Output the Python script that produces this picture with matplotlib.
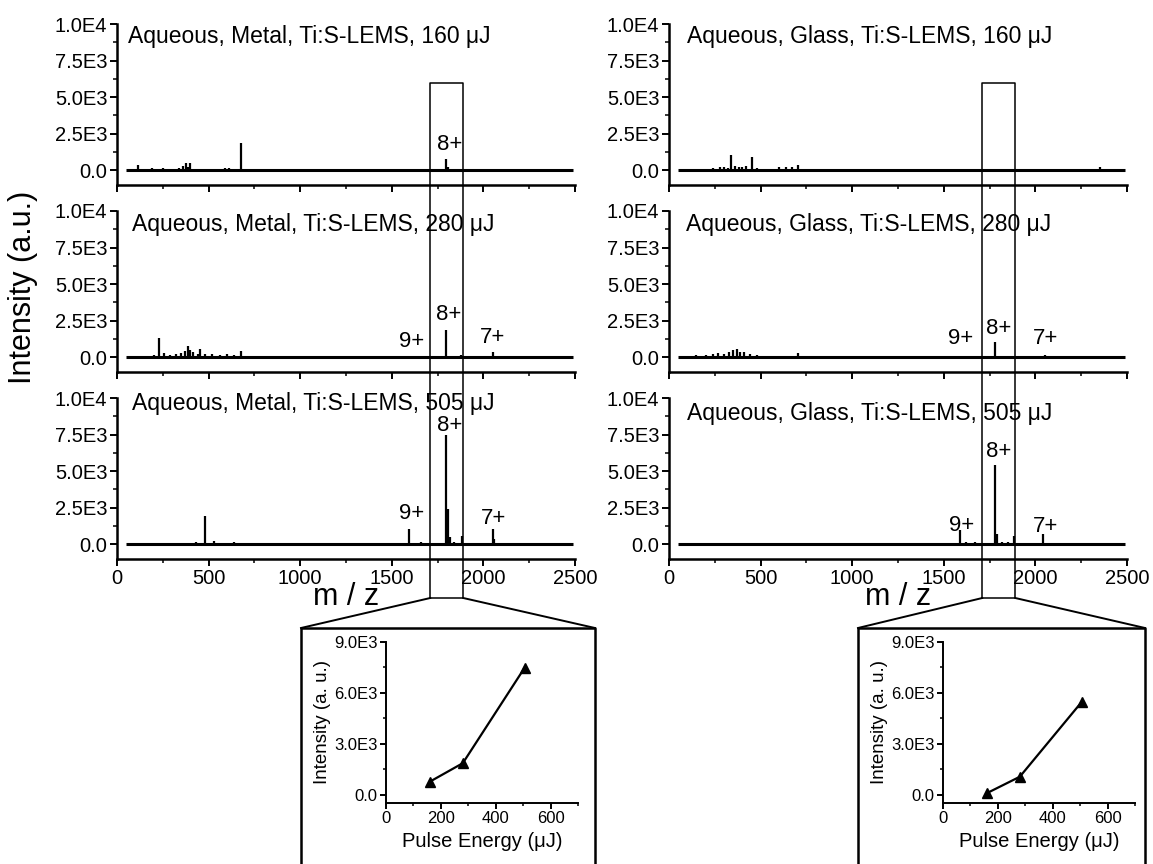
import matplotlib
matplotlib.use("Agg")
import matplotlib.pyplot as plt
from matplotlib.lines import Line2D
from matplotlib.ticker import MultipleLocator

plt.rcParams['font.family'] = ['Liberation Sans', 'DejaVu Sans']

# ---------------------------------------------------------------
# Pulse energies and 8+ charge-state intensities
# ---------------------------------------------------------------
energies = [160, 280, 505]
metal_8plus = [760, 1850, 7470]
glass_8plus = [80, 1050, 5450]

mz_span = [50, 2490]

# ---------------------------------------------------------------
# Stick spectra (m/z, intensity) - metal substrate
# ---------------------------------------------------------------
metal_160_mz = [115, 150, 190, 210, 230, 250, 300, 340, 360, 376, 390, 400,
                430, 470, 520, 560, 590, 610, 640, 678, 740, 900, 1000, 1100,
                1300, 1500, 1650, 1795, 1805, 1950, 2150, 2300, 2450]
metal_160_int = [340, 80, 150, 120, 100, 130, 80, 150, 300, 480, 250, 480,
                 120, 100, 90, 120, 150, 180, 100, 1860, 60, 60, 70, 50,
                 60, 60, 70, metal_8plus[0], 250, 50, 70, 40, 50]

metal_280_mz = [100, 150, 200, 229, 255, 290, 320, 350, 372, 387, 400, 415,
                440, 453, 480, 520, 560, 600, 640, 678, 750, 900, 1080, 1300,
                1480, 1590, 1700, 1795, 1880, 1960, 2053, 2200, 2400]
metal_280_int = [80, 120, 150, 1300, 300, 150, 200, 300, 450, 750, 500, 350,
                 250, 600, 200, 220, 180, 200, 150, 410, 80, 60, 90, 70,
                 60, 100, 60, metal_8plus[1], 150, 60, 350, 60, 70]

metal_505_mz = [120, 160, 200, 260, 330, 400, 430, 480, 530, 560, 640, 720,
                780, 850, 930, 1000, 1100, 1200, 1300, 1400, 1500, 1595, 1660,
                1700, 1795, 1808, 1815, 1840, 1883, 1950, 2053, 2060, 2120,
                2200, 2300, 2400]
metal_505_int = [60, 100, 80, 70, 80, 60, 150, 1960, 200, 90, 150, 70,
                 50, 60, 50, 50, 50, 60, 50, 60, 60, 1080, 150,
                 80, metal_8plus[2], 2400, 500, 150, 600, 80, 1080, 400, 60,
                 60, 50, 50]

# ---------------------------------------------------------------
# Stick spectra - glass substrate
# ---------------------------------------------------------------
glass_160_mz = [100, 150, 200, 240, 280, 300, 320, 338, 360, 380, 400, 420,
                452, 480, 520, 560, 600, 640, 670, 703, 800, 1000, 1200,
                1400, 1600, 1795, 1900, 2100, 2300, 2353, 2450]
glass_160_int = [50, 80, 100, 150, 200, 250, 150, 1030, 300, 200, 250, 300,
                 900, 150, 100, 120, 200, 250, 250, 400, 50, 40, 40,
                 40, 50, glass_8plus[0], 40, 40, 80, 200, 50]

glass_280_mz = [150, 200, 240, 270, 300, 330, 350, 370, 390, 410, 440, 480,
                540, 600, 660, 703, 800, 1000, 1200, 1400, 1590, 1680, 1780,
                1880, 2053, 2200, 2360, 2440]
glass_280_int = [150, 150, 200, 300, 250, 400, 500, 600, 400, 350, 200, 150,
                 100, 120, 100, 300, 60, 50, 50, 60, 100, 80, glass_8plus[1],
                 80, 150, 50, 100, 60]

glass_505_mz = [1450, 1480, 1520, 1560, 1590, 1620, 1650, 1670, 1780, 1790,
                1820, 1850, 1882, 2043, 2100]
glass_505_int = [100, 80, 60, 70, 950, 150, 120, 150, glass_8plus[2], 700,
                 150, 150, 540, 680, 50]

# ---------------------------------------------------------------
# Tick labels
# ---------------------------------------------------------------
spec_yticks = [0, 2500, 5000, 7500, 10000]
spec_ylabels = ["0.0", "2.5E3", "5.0E3", "7.5E3", "1.0E4"]
spec_xticks = [0, 500, 1000, 1500, 2000, 2500]
inset_yticks = [0, 3000, 6000, 9000]
inset_ylabels = ["0.0", "3.0E3", "6.0E3", "9.0E3"]
inset_xticks = [0, 200, 400, 600]

spectra = {
    "Metal": [(metal_160_mz, metal_160_int), (metal_280_mz, metal_280_int),
              (metal_505_mz, metal_505_int)],
    "Glass": [(glass_160_mz, glass_160_int), (glass_280_mz, glass_280_int),
              (glass_505_mz, glass_505_int)],
}

# charge-state labels (text, m/z, y) for each panel
peak_labels = {
    "Metal": [[("8+", 1818, 1750)],
              [("9+", 1610, 1050), ("8+", 1812, 2950), ("7+", 2050, 1350)],
              [("9+", 1610, 2100), ("8+", 1818, 8100), ("7+", 2058, 1800)]],
    "Glass": [[],
              [("9+", 1590, 1300), ("8+", 1800, 2000), ("7+", 2053, 1300)],
              [("9+", 1596, 1280), ("8+", 1797, 6350), ("7+", 2054, 1200)]],
}
title_pos = {"Metal": [(60, 9180), (80, 9050), (80, 9600)],
             "Glass": [(100, 9180), (95, 9110), (100, 8970)]}

W, H = 1153, 864
fig = plt.figure(figsize=(W / 100, H / 100), dpi=100)

col_left = {"Metal": 117, "Glass": 669}
col_width = 458
panel_tops = [24, 211, 398]
panel_h = 161


def px_axes(x, top, w, h):
    return fig.add_axes([x / W, 1 - (top + h) / H, w / W, h / H])


def style_axes(ax, lw=1.8):
    for side in ("top", "right"):
        ax.spines[side].set_visible(False)
    for side in ("bottom", "left"):
        ax.spines[side].set_linewidth(lw)
    ax.tick_params(which="major", direction="out", length=5, width=1.4)
    ax.tick_params(which="minor", direction="out", length=3, width=1.1)


axes = {}
for sub in ("Metal", "Glass"):
    axes[sub] = []
    for i, e in enumerate(energies):
        ax = px_axes(col_left[sub], panel_tops[i], col_width, panel_h)
        mz, inten = spectra[sub][i]
        ax.hlines(0, mz_span[0], mz_span[1], color="black", lw=2.2)
        ax.vlines(mz, 0, inten, color="black", lw=1.6)
        ax.set_xlim(0, 2500)
        ax.set_ylim(-1000, 10000)
        ax.set_yticks(spec_yticks)
        ax.set_yticklabels(spec_ylabels, fontsize=14.5)
        ax.yaxis.set_minor_locator(MultipleLocator(1250))
        ax.set_xticks(spec_xticks)
        ax.xaxis.set_minor_locator(MultipleLocator(250))
        ax.tick_params(axis="y", pad=2)
        if i < 2:
            ax.set_xticklabels([])
        else:
            ax.tick_params(axis="x", labelsize=14.5, pad=2)
            ax.set_xlabel("m / z", fontsize=22, labelpad=-4)
        style_axes(ax)
        tx, ty = title_pos[sub][i]
        ax.text(tx, ty, f"Aqueous, {sub}, Ti:S-LEMS, {e} \u03bcJ",
                fontsize=16.5, va="center", ha="left")
        for lab, x, y in peak_labels[sub][i]:
            ax.text(x, y, lab, fontsize=16, ha="center", va="center")
        axes[sub].append(ax)

fig.text(23 / W, 1 - 287 / H, "Intensity (a.u.)", rotation=90,
         fontsize=22, ha="center", va="center")

# ---------------------------------------------------------------
# Inset: 8+ intensity vs pulse energy
# ---------------------------------------------------------------
inset_left = {"Metal": 386, "Glass": 943}
frame_x = {"Metal": (301, 595), "Glass": (858, 1145)}
frame_top = 628
box_bottom = 598
box_mz = (1710, 1890)

inv = fig.transFigure.inverted()
for sub, vals in (("Metal", metal_8plus), ("Glass", glass_8plus)):
    iax = px_axes(inset_left[sub], 642, 192, 161)
    iax.plot(energies, vals, color="black", lw=1.6, marker="^", ms=6.5)
    iax.set_xlim(0, 700)
    iax.set_ylim(-500, 9000)
    iax.set_xticks(inset_xticks)
    iax.xaxis.set_minor_locator(MultipleLocator(100))
    iax.set_yticks(inset_yticks)
    iax.set_yticklabels(inset_ylabels)
    iax.yaxis.set_minor_locator(MultipleLocator(1500))
    style_axes(iax, lw=1.4)
    iax.tick_params(which="major", length=4, labelsize=12, pad=2)
    iax.tick_params(which="minor", length=2)
    iax.set_xlabel("Pulse Energy (\u03bcJ)", fontsize=14.5, labelpad=4)
    iax.set_ylabel("Intensity (a. u.)", fontsize=13.5, labelpad=2)

    # selection box around the 8+ peak, spanning all three panels
    top_ax = axes[sub][0]
    (x0, y_top) = inv.transform(top_ax.transData.transform((box_mz[0], 6000)))
    (x1, _) = inv.transform(top_ax.transData.transform((box_mz[1], 6000)))
    yb = 1 - box_bottom / H
    fig.add_artist(Line2D([x0, x0, x1, x1, x0], [yb, y_top, y_top, yb, yb],
                          transform=fig.transFigure, color="black", lw=1.1))
    # fan-out lines and inset frame
    fl, fr = frame_x[sub][0] / W, frame_x[sub][1] / W
    ft = 1 - frame_top / H
    fig.add_artist(Line2D([x0, fl], [yb, ft], transform=fig.transFigure,
                          color="black", lw=1.4))
    fig.add_artist(Line2D([x1, fr], [yb, ft], transform=fig.transFigure,
                          color="black", lw=1.4))
    fig.add_artist(Line2D([fl, fl, fr, fr], [-0.01, ft, ft, -0.01],
                          transform=fig.transFigure, color="black", lw=1.8))

fig.savefig("out.png", dpi=100)
